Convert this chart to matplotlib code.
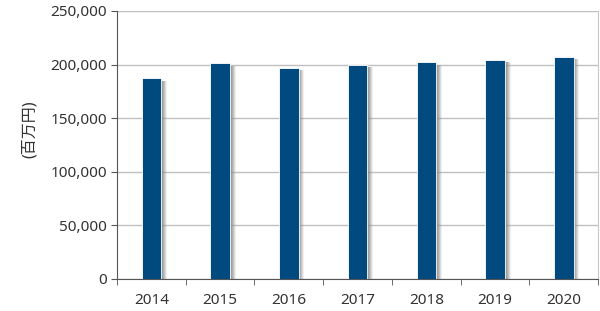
import numpy as np
import matplotlib.pyplot as plt

plt.rcParams['font.family'] = ['Noto Sans', 'Noto Sans CJK JP', 'DejaVu Sans']

years = ['2014', '2015', '2016', '2017', '2018', '2019', '2020']
values = [187000, 201000, 197000, 200000, 202000, 204500, 207000]

fig = plt.figure(figsize=(6, 3.11), dpi=100)
ax = fig.add_axes([0.195, 0.103, 0.802, 0.862])

x = np.arange(len(years))
w = 0.285
# soft shadow to the right of each bar
shadow = [v - 2000 for v in values]
for off, a in [(0.085, 0.12), (0.07, 0.2), (0.055, 0.28), (0.04, 0.36), (0.025, 0.45)]:
    ax.bar(x + off, shadow, w, color='#8a8a8a', alpha=a, linewidth=0, zorder=2)
ax.bar(x, values, w, color='#004a80', edgecolor='white', linewidth=0.6, zorder=3)

ax.set_xlim(-0.5, len(years) - 0.5)
ax.set_ylim(0, 250000)
ax.set_yticks(np.arange(0, 250001, 50000))
ax.set_yticklabels([f'{v:,}' for v in range(0, 250001, 50000)])
ax.set_xticks(x)
ax.set_xticklabels(years)
ax.set_xticks(np.arange(-0.5, len(years)), minor=True)
ax.tick_params(axis='x', which='major', length=0, pad=10)
ax.tick_params(axis='x', which='minor', length=4, color='#555555')
ax.tick_params(axis='y', length=4, color='#555555', pad=3)
ax.tick_params(labelsize=11, labelcolor='#333333')

ax.grid(axis='y', color='#c0c0c0', linewidth=1, zorder=0)
ax.set_axisbelow(True)
for s in ['left', 'bottom']:
    ax.spines[s].set_color('#555555')
ax.spines['top'].set_visible(False)
ax.spines['right'].set_color('#c8c8c8')

ax.set_ylabel('(百万円)', fontsize=11.5, color='#333333', va='center')
ax.yaxis.set_label_coords(-0.181, 0.56)

fig.savefig('out.png')
